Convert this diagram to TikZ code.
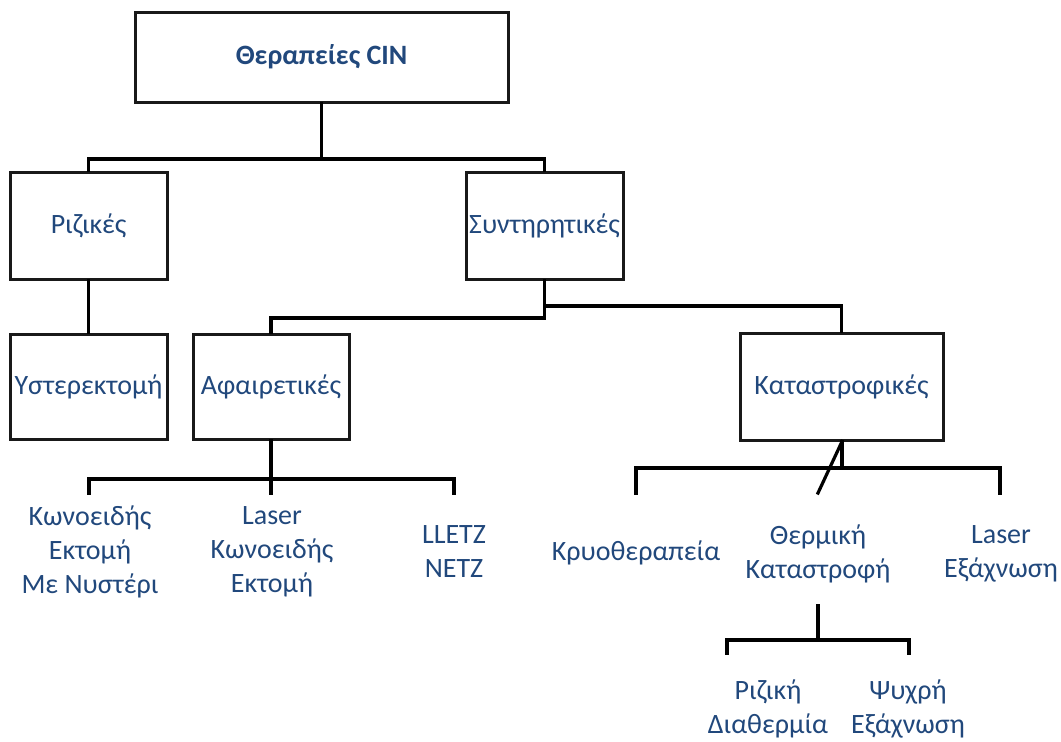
\documentclass[tikz,border=0pt]{standalone}
\usepackage{fontspec}
\setmainfont{Carlito}
\definecolor{txtblue}{RGB}{33,72,124}
\tikzset{
  box/.style={draw=black!90, line width=3pt, minimum width=#1, inner sep=0pt, font=\fontsize{28}{34}\selectfont, text=txtblue},
  lbl/.style={align=center, inner sep=0pt, font=\fontsize{28}{34}\selectfont, text=txtblue},
  con/.style={line width=3.2pt, line cap=rect}
}
\begin{document}
\begin{tikzpicture}[x=1pt,y=-1pt]
\useasboundingbox (0,0) rectangle (1061,742);
% boxes
\node[box=373pt, minimum height=90pt, font=\fontsize{28}{34}\selectfont\bfseries] (title) at (321.5,57) {Θεραπείες CIN};
\node[box=157pt, minimum height=107pt] (rizikes) at (88.5,225.5) {Ριζικές};
\node[box=157pt, minimum height=107pt] (synt) at (544.5,225.5) {Συντηρητικές};
\node[box=157pt, minimum height=105pt] (yster) at (88.5,386.5) {Υστερεκτομή};
\node[box=156pt, minimum height=105pt] (afair) at (271,386.5) {Αφαιρετικές};
\node[box=203pt, minimum height=107pt] (katas) at (841.5,386.5) {Καταστροφικές};
% leaf labels
\node[lbl] (konos) at (90,552) {Κωνοειδής\\Εκτομή\\Με Νυστέρι};
\node[lbl] (laserk) at (272,552) {Laser\\Κωνοειδής\\Εκτομή};
\node[lbl] (lletz) at (454,552) {LLETZ\\NETZ};
\node[lbl] (kryo) at (636,553) {Κρυοθεραπεία};
\node[lbl] (therm) at (818,554) {Θερμική\\Καταστροφή};
\node[lbl] (laserx) at (1001,554) {Laser\\Εξάχνωση};
\node[lbl] (rizd) at (768,709) {Ριζική\\Διαθερμία};
\node[lbl] (psyx) at (908,709) {Ψυχρή\\Εξάχνωση};
% junction coordinates
\coordinate (tj) at (321.5,159);
\coordinate (s1) at (544.5,306);
\coordinate (s2) at (544.5,318);
\coordinate (aj) at (271,479);
\coordinate (aL) at (89,493);
\coordinate (aM) at (271,493);
\coordinate (aR) at (454,493);
\coordinate (kj) at (842,468);
\coordinate (kL) at (636,493);
\coordinate (kR) at (1000,493);
\coordinate (kd) at (818,493);
\coordinate (tt) at (818,606);
\coordinate (tj2) at (818,640);
\coordinate (tL) at (727,653);
\coordinate (tR) at (909,653);
% connectors
\draw[con] (title.south) -- (tj);
\draw[con] (rizikes.north) |- (tj) -| (synt.north);
\draw[con] (rizikes.south) -- (yster.north);
\draw[con] (synt.south) -- (s2) -| (afair.north);
\draw[con] (s1) -| (katas.north);
\draw[con] (afair.south) -- (aM);
\draw[con] (aL) |- (aj) -| (aR);
\draw[con] (katas.south -| kj) -- (kj);
\draw[con] (kL) |- (kj) -| (kR);
\draw[con] (katas.south -| kj) -- (kd);
\draw[con] (tt) -- (tj2);
\draw[con] (tL) |- (tj2) -| (tR);
\end{tikzpicture}
\end{document}
